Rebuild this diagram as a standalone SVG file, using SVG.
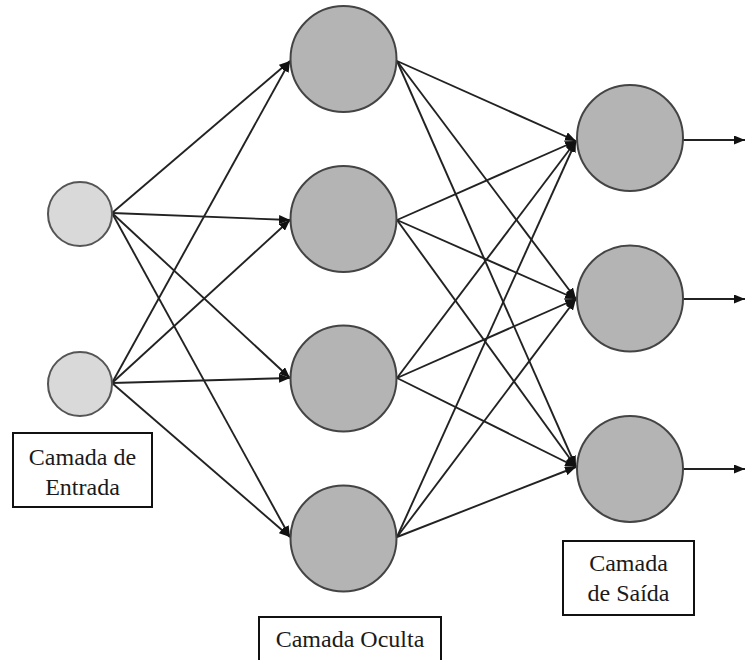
<svg xmlns="http://www.w3.org/2000/svg" width="745" height="660" viewBox="0 0 745 660">
  <defs>
    <marker id="arrow" viewBox="0 0 11 9" refX="11" refY="4.5" markerWidth="11" markerHeight="9" markerUnits="userSpaceOnUse" orient="auto">
      <path d="M0,0 L11,4.5 L0,9 Z" fill="#111"/>
    </marker>
    <style>
      .edge { stroke: #222; stroke-width: 1.9; fill: none; marker-end: url(#arrow); }
      .in { fill: #d9d9d9; stroke: #555; stroke-width: 2; }
      .neuron { fill: #b4b4b4; stroke: #444; stroke-width: 2; }
      .box { fill: #fff; stroke: #111; stroke-width: 2; }
      .lbl { font-family: "Liberation Serif", "Times New Roman", serif; font-size: 24px; fill: #1a1a1a; text-anchor: middle; }
    </style>
  </defs>
  <rect width="745" height="660" fill="#fff"/>

  <!-- connectors -->
  <g id="connectors">
    <!-- input layer to hidden layer -->
    <line class="edge" x1="112" y1="213" x2="290" y2="61"/>
    <line class="edge" x1="112" y1="213" x2="290" y2="220"/>
    <line class="edge" x1="112" y1="213" x2="290" y2="378"/>
    <line class="edge" x1="112" y1="213" x2="290" y2="537"/>
    <line class="edge" x1="112" y1="383" x2="290" y2="61"/>
    <line class="edge" x1="112" y1="383" x2="290" y2="220"/>
    <line class="edge" x1="112" y1="383" x2="290" y2="378"/>
    <line class="edge" x1="112" y1="383" x2="290" y2="537"/>
    <!-- hidden layer to output layer -->
    <line class="edge" x1="397" y1="61" x2="576" y2="141"/>
    <line class="edge" x1="397" y1="61" x2="576" y2="299"/>
    <line class="edge" x1="397" y1="61" x2="576" y2="467"/>
    <line class="edge" x1="397" y1="220" x2="576" y2="141"/>
    <line class="edge" x1="397" y1="220" x2="576" y2="299"/>
    <line class="edge" x1="397" y1="220" x2="576" y2="467"/>
    <line class="edge" x1="397" y1="378" x2="576" y2="141"/>
    <line class="edge" x1="397" y1="378" x2="576" y2="299"/>
    <line class="edge" x1="397" y1="378" x2="576" y2="467"/>
    <line class="edge" x1="397" y1="537" x2="576" y2="141"/>
    <line class="edge" x1="397" y1="537" x2="576" y2="299"/>
    <line class="edge" x1="397" y1="537" x2="576" y2="467"/>
    <!-- outputs -->
    <line class="edge" x1="683" y1="140" x2="745" y2="140"/>
    <line class="edge" x1="683" y1="299" x2="745" y2="299"/>
    <line class="edge" x1="683" y1="469" x2="745" y2="469"/>
  </g>

  <!-- input layer -->
  <g id="in1"><circle class="in" cx="80" cy="214" r="32"/></g>
  <g id="in2"><circle class="in" cx="80" cy="384" r="32"/></g>

  <!-- hidden layer -->
  <g id="h1"><circle class="neuron" cx="343.5" cy="59" r="53"/></g>
  <g id="h2"><circle class="neuron" cx="343.5" cy="219" r="53"/></g>
  <g id="h3"><circle class="neuron" cx="343.5" cy="378.5" r="53"/></g>
  <g id="h4"><circle class="neuron" cx="343.5" cy="538.5" r="53"/></g>

  <!-- output layer -->
  <g id="o1"><circle class="neuron" cx="630" cy="138" r="53"/></g>
  <g id="o2"><circle class="neuron" cx="630" cy="298.5" r="53"/></g>
  <g id="o3"><circle class="neuron" cx="630" cy="469" r="53"/></g>

  <!-- layer captions -->
  <g id="label-entrada">
    <rect class="box" x="13" y="433" width="139" height="74"/>
    <text class="lbl" x="82.5" y="465">Camada de</text>
    <text class="lbl" x="82.5" y="495">Entrada</text>
  </g>
  <g id="label-oculta">
    <rect class="box" x="259" y="617" width="182" height="60"/>
    <text class="lbl" x="350" y="647">Camada Oculta</text>
  </g>
  <g id="label-saida">
    <rect class="box" x="563" y="541" width="131" height="74"/>
    <text class="lbl" x="628.5" y="571">Camada</text>
    <text class="lbl" x="628.5" y="601">de Saída</text>
  </g>
</svg>
